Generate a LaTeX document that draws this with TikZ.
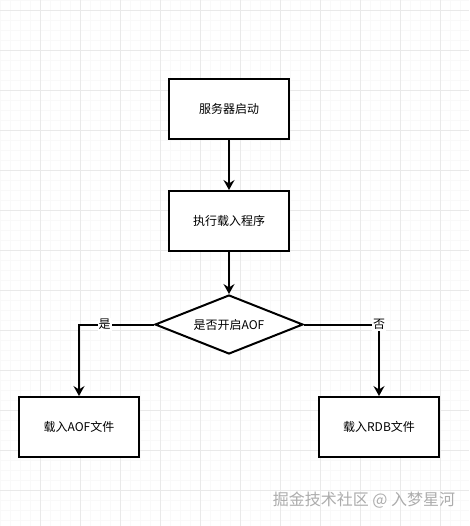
\documentclass[tikz,border=0pt]{standalone}
\usepackage{fontspec}
\setmainfont{Noto Sans CJK SC}
\usetikzlibrary{shapes.geometric,arrows.meta,positioning}
\tikzset{
	>={Stealth[length=10pt,width=11pt,inset=3.5pt]},
	gridminor/.style={gray!5, line width=0.6pt},
	gridmajor/.style={gray!17, line width=0.8pt},
	procbox/.style={
		rectangle,
		draw=black, line width=2pt,
		fill=white,
		minimum width=120pt,
		minimum height=60pt,
		inner sep=0pt,
		font=\fontsize{12}{14}\selectfont},
	decide/.style={
		diamond, aspect=2.5,
		draw=black, line width=2pt,
		fill=white,
		minimum width=148pt,
		minimum height=59pt,
		inner sep=0pt,
		font=\fontsize{12}{14}\selectfont},
	flowline/.style={draw, line width=2pt, ->},
	branch/.style={fill=white, inner sep=1pt, font=\fontsize{12}{14}\selectfont},
	watermark/.style={text=gray!65, inner sep=0pt, font=\fontsize{16}{18}\selectfont},
}
\begin{document}
\begin{tikzpicture}
[x=1pt, y=-1pt, node distance=50pt]
\useasboundingbox[fill=white] (0,0) rectangle (469,526);
% grid
\foreach \gx in {0,10,...,460} \draw[gridminor] (\gx,0) -- (\gx,526);
\foreach \gy in {0,10,...,520} \draw[gridminor] (0,\gy) -- (469,\gy);
\foreach \gx in {40,80,...,440} \draw[gridmajor] (\gx,0) -- (\gx,526);
\foreach \gy in {10,50,...,490} \draw[gridmajor] (0,\gy) -- (469,\gy);
% steps
\node[procbox] (boot) at (229,109) {服务器启动};
\node[procbox, below=of boot] (load) {执行载入程序};
\node[decide, below=42pt of load] (check) {是否开启AOF};
\node[procbox] (aof) at (79,427) {载入AOF文件};
\node[procbox] (rdb) at (379,427) {载入RDB文件};
% connectors
\path[flowline] (boot) -- (load);
\path[flowline] (load) -- (check);
\path[flowline] (check.west) -| node[branch, pos=0.33] {是} (aof);
\path[flowline] (check.east) -| node[branch, pos=0.5] {否} (rdb);
\node[watermark] (mark) at (364,500) {掘金技术社区 @ 入梦星河};
\end{tikzpicture}
\end{document}
